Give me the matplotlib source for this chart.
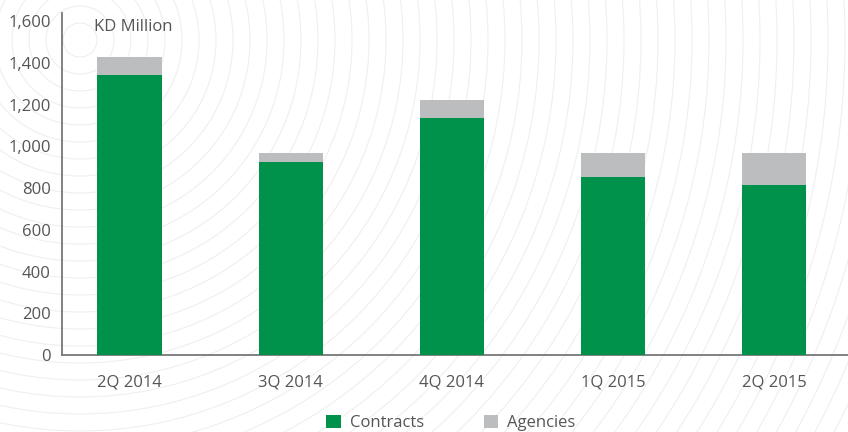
import matplotlib
matplotlib.use("Agg")
import matplotlib.pyplot as plt
import numpy as np
from matplotlib.patches import Circle, Patch
from matplotlib.ticker import FuncFormatter

quarters = ["2Q 2014", "3Q 2014", "4Q 2014", "1Q 2015", "2Q 2015"]
contracts = [1343, 924, 1138, 852, 814]
agencies = [85, 43, 86, 119, 153]
yticks = [0, 200, 400, 600, 800, 1000, 1200, 1400, 1600]

green = "#00924a"
grey = "#bcbdbf"
text_col = "#555555"

plt.rcParams["font.family"] = ["Open Sans", "DejaVu Sans"]

fig = plt.figure(figsize=(8.48, 4.32), dpi=100)
fig.patch.set_facecolor("white")

# faint concentric rings in the background
for r in np.arange(0.17, 10, 0.17):
    fig.add_artist(Circle((0.8, 3.92), r, transform=fig.dpi_scale_trans,
                          fill=False, edgecolor="#efefef", linewidth=0.8, zorder=-5))

ax = fig.add_axes([62 / 848, 1 - 355 / 432, 1 - 62 / 848, (355 - 13) / 432])
ax.patch.set_visible(False)

x = np.arange(len(quarters))
ax.bar(x, contracts, width=0.4, color=green, zorder=3)
ax.bar(x, agencies, width=0.4, bottom=contracts, color=grey, zorder=3)

ax.set_xlim(-0.42, 4.46)
ax.set_ylim(0, 1640)
ax.set_yticks(yticks)
ax.yaxis.set_major_formatter(FuncFormatter(lambda v, p: f"{int(v):,}"))
ax.set_xticks(x)
ax.set_xticklabels(quarters)
ax.tick_params(axis="both", length=0, labelsize=12, colors=text_col)
ax.tick_params(axis="y", pad=8)
ax.tick_params(axis="x", pad=14)

for s in ["top", "right"]:
    ax.spines[s].set_visible(False)
for s in ["left", "bottom"]:
    ax.spines[s].set_color("#777777")
    ax.spines[s].set_linewidth(1.3)

ax.text(-0.22, 1575, "KD Million", fontsize=12, color=text_col,
        ha="left", va="center")

handles = [Patch(facecolor=green, label="Contracts"),
           Patch(facecolor=grey, label="Agencies")]
leg = fig.legend(handles=handles, loc="center", bbox_to_anchor=(451 / 848, 1 - 423 / 432),
                 ncol=2, frameon=False, fontsize=12, handlelength=0.85, handleheight=0.85,
                 handletextpad=0.55, columnspacing=3.6, labelcolor=text_col)

fig.savefig("out.png", dpi=100)
